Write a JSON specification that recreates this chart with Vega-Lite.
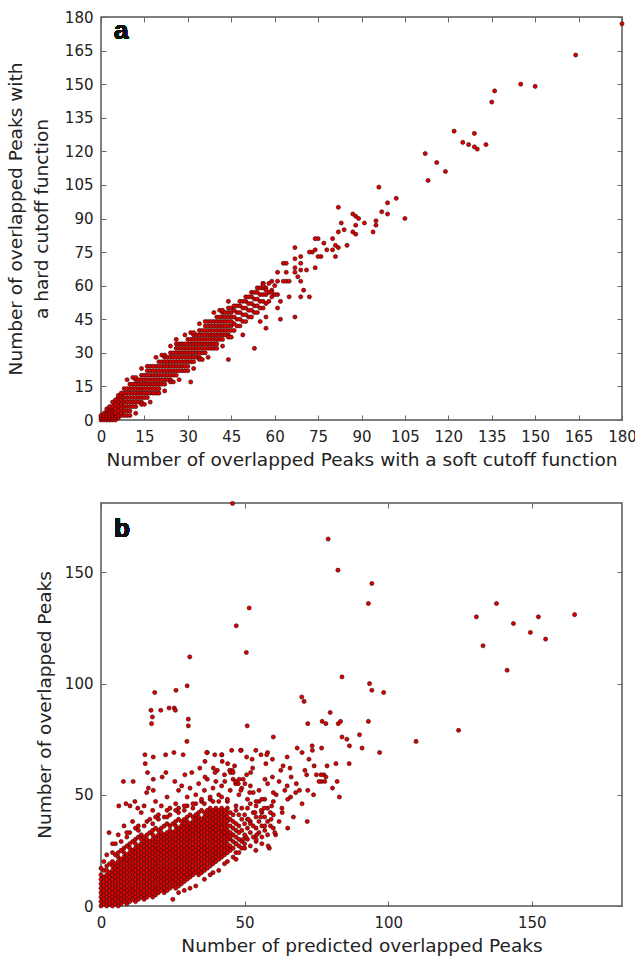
{
"$schema":"https://vega.github.io/schema/vega-lite/v6.json",
"background":"white",
"padding":{"left":5,"top":9,"right":2,"bottom":0},
"bounds":"flush",
"spacing":83,
"config":{
 "view":{"stroke":"#555","strokeWidth":1.5},
 "axis":{"labelFont":"DejaVu Sans","labelFontSize":15,"labelColor":"#222","titleFont":"DejaVu Sans","titleFontSize":18.5,"titleFontWeight":"normal","titleColor":"#222","tickColor":"#666","tickWidth":1,"tickSize":-5,"labelPadding":13,"domain":false,"grid":false,"labelFlush":false,"labelOverlap":false,"titlePadding":6},
 "axisX":{"labelPadding":14},
 "point":{"filled":true,"shape":"circle","size":17,"fill":"#e00000","stroke":"#300000","strokeWidth":0.6,"opacity":1}
},
"datasets":{
"a":[
{"x":0,"y":0},{"x":0,"y":1},{"x":0,"y":2},
{"x":1,"y":0},{"x":1,"y":1},{"x":1,"y":2},{"x":1,"y":3},
{"x":2,"y":0},{"x":2,"y":1},{"x":2,"y":2},{"x":2,"y":3},{"x":2,"y":4},{"x":2,"y":5},
{"x":3,"y":0},{"x":3,"y":1},{"x":3,"y":2},{"x":3,"y":3},{"x":3,"y":4},{"x":3,"y":5},{"x":3,"y":6},
{"x":4,"y":0},{"x":4,"y":1},{"x":4,"y":2},{"x":4,"y":3},{"x":4,"y":4},{"x":4,"y":5},{"x":4,"y":6},{"x":4,"y":8},
{"x":5,"y":0},{"x":5,"y":1},{"x":5,"y":2},{"x":5,"y":3},{"x":5,"y":5},{"x":5,"y":7},{"x":5,"y":9},
{"x":6,"y":1},{"x":6,"y":2},{"x":6,"y":4},{"x":6,"y":6},{"x":6,"y":8},{"x":6,"y":10},{"x":6,"y":11},
{"x":7,"y":2},{"x":7,"y":3},{"x":7,"y":5},{"x":7,"y":7},{"x":7,"y":9},{"x":7,"y":11},{"x":7,"y":12},
{"x":8,"y":2},{"x":8,"y":4},{"x":8,"y":6},{"x":8,"y":8},{"x":8,"y":10},{"x":8,"y":12},{"x":8,"y":14},
{"x":9,"y":4},{"x":9,"y":6},{"x":9,"y":8},{"x":9,"y":10},{"x":9,"y":12},{"x":9,"y":14},{"x":9,"y":2},{"x":9,"y":18},
{"x":10,"y":4},{"x":10,"y":6},{"x":10,"y":8},{"x":10,"y":10},{"x":10,"y":12},{"x":10,"y":14},{"x":10,"y":16},{"x":10,"y":2},
{"x":11,"y":6},{"x":11,"y":8},{"x":11,"y":10},{"x":11,"y":12},{"x":11,"y":14},{"x":11,"y":16},{"x":11,"y":19},
{"x":12,"y":6},{"x":12,"y":8},{"x":12,"y":10},{"x":12,"y":12},{"x":12,"y":14},{"x":12,"y":16},{"x":12,"y":18},{"x":12,"y":3},{"x":12,"y":19},
{"x":13,"y":8},{"x":13,"y":10},{"x":13,"y":12},{"x":13,"y":14},{"x":13,"y":16},{"x":13,"y":18},
{"x":14,"y":8},{"x":14,"y":10},{"x":14,"y":12},{"x":14,"y":14},{"x":14,"y":16},{"x":14,"y":18},{"x":14,"y":20},{"x":14,"y":7},{"x":14,"y":23},
{"x":15,"y":10},{"x":15,"y":12},{"x":15,"y":14},{"x":15,"y":16},{"x":15,"y":18},{"x":15,"y":20},{"x":15,"y":7},
{"x":16,"y":10},{"x":16,"y":12},{"x":16,"y":14},{"x":16,"y":16},{"x":16,"y":18},{"x":16,"y":20},{"x":16,"y":22},{"x":16,"y":24},
{"x":17,"y":12},{"x":17,"y":14},{"x":17,"y":16},{"x":17,"y":18},{"x":17,"y":20},{"x":17,"y":22},{"x":17,"y":8},{"x":17,"y":24},
{"x":18,"y":12},{"x":18,"y":14},{"x":18,"y":16},{"x":18,"y":18},{"x":18,"y":20},{"x":18,"y":22},{"x":18,"y":24},
{"x":19,"y":14},{"x":19,"y":16},{"x":19,"y":18},{"x":19,"y":20},{"x":19,"y":22},{"x":19,"y":24},{"x":19,"y":12},{"x":19,"y":28},
{"x":20,"y":14},{"x":20,"y":16},{"x":20,"y":18},{"x":20,"y":20},{"x":20,"y":22},{"x":20,"y":24},{"x":20,"y":26},{"x":20,"y":12},
{"x":21,"y":16},{"x":21,"y":18},{"x":21,"y":20},{"x":21,"y":22},{"x":21,"y":24},{"x":21,"y":26},{"x":21,"y":29},
{"x":22,"y":16},{"x":22,"y":18},{"x":22,"y":20},{"x":22,"y":22},{"x":22,"y":24},{"x":22,"y":26},{"x":22,"y":28},{"x":22,"y":13},{"x":22,"y":29},
{"x":23,"y":18},{"x":23,"y":20},{"x":23,"y":22},{"x":23,"y":24},{"x":23,"y":26},{"x":23,"y":28},
{"x":24,"y":18},{"x":24,"y":20},{"x":24,"y":22},{"x":24,"y":24},{"x":24,"y":26},{"x":24,"y":28},{"x":24,"y":30},{"x":24,"y":17},{"x":24,"y":33},
{"x":25,"y":20},{"x":25,"y":22},{"x":25,"y":24},{"x":25,"y":26},{"x":25,"y":28},{"x":25,"y":30},{"x":25,"y":17},
{"x":26,"y":20},{"x":26,"y":22},{"x":26,"y":24},{"x":26,"y":26},{"x":26,"y":28},{"x":26,"y":30},{"x":26,"y":32},{"x":26,"y":34},{"x":26,"y":36},
{"x":27,"y":22},{"x":27,"y":24},{"x":27,"y":26},{"x":27,"y":28},{"x":27,"y":30},{"x":27,"y":32},{"x":27,"y":18},{"x":27,"y":34},
{"x":28,"y":22},{"x":28,"y":24},{"x":28,"y":26},{"x":28,"y":28},{"x":28,"y":30},{"x":28,"y":32},{"x":28,"y":34},
{"x":29,"y":24},{"x":29,"y":26},{"x":29,"y":28},{"x":29,"y":30},{"x":29,"y":32},{"x":29,"y":34},{"x":29,"y":22},{"x":29,"y":38},
{"x":30,"y":24},{"x":30,"y":26},{"x":30,"y":28},{"x":30,"y":30},{"x":30,"y":32},{"x":30,"y":34},{"x":30,"y":36},{"x":30,"y":22},
{"x":31,"y":26},{"x":31,"y":28},{"x":31,"y":30},{"x":31,"y":32},{"x":31,"y":34},{"x":31,"y":36},{"x":31,"y":39},
{"x":32,"y":26},{"x":32,"y":28},{"x":32,"y":30},{"x":32,"y":32},{"x":32,"y":34},{"x":32,"y":36},{"x":32,"y":38},{"x":32,"y":23},{"x":32,"y":39},
{"x":33,"y":28},{"x":33,"y":30},{"x":33,"y":32},{"x":33,"y":34},{"x":33,"y":36},{"x":33,"y":38},
{"x":34,"y":28},{"x":34,"y":30},{"x":34,"y":32},{"x":34,"y":34},{"x":34,"y":36},{"x":34,"y":38},{"x":34,"y":40},{"x":34,"y":27},{"x":34,"y":43},
{"x":35,"y":30},{"x":35,"y":32},{"x":35,"y":34},{"x":35,"y":36},{"x":35,"y":38},{"x":35,"y":40},{"x":35,"y":27},
{"x":36,"y":30},{"x":36,"y":32},{"x":36,"y":34},{"x":36,"y":36},{"x":36,"y":38},{"x":36,"y":40},{"x":36,"y":42},{"x":36,"y":44},
{"x":37,"y":32},{"x":37,"y":34},{"x":37,"y":36},{"x":37,"y":38},{"x":37,"y":40},{"x":37,"y":42},{"x":37,"y":28},{"x":37,"y":44},
{"x":38,"y":32},{"x":38,"y":34},{"x":38,"y":36},{"x":38,"y":38},{"x":38,"y":40},{"x":38,"y":42},{"x":38,"y":44},
{"x":39,"y":34},{"x":39,"y":36},{"x":39,"y":38},{"x":39,"y":40},{"x":39,"y":42},{"x":39,"y":44},{"x":39,"y":32},{"x":39,"y":48},
{"x":40,"y":34},{"x":40,"y":36},{"x":40,"y":38},{"x":40,"y":40},{"x":40,"y":42},{"x":40,"y":44},{"x":40,"y":46},{"x":40,"y":32},
{"x":41,"y":36},{"x":41,"y":38},{"x":41,"y":40},{"x":41,"y":42},{"x":41,"y":44},{"x":41,"y":46},{"x":41,"y":49},
{"x":42,"y":36},{"x":42,"y":38},{"x":42,"y":40},{"x":42,"y":42},{"x":42,"y":44},{"x":42,"y":46},{"x":42,"y":48},{"x":42,"y":33},{"x":42,"y":49},
{"x":43,"y":38},{"x":43,"y":40},{"x":43,"y":42},{"x":43,"y":44},{"x":43,"y":46},{"x":43,"y":48},
{"x":44,"y":38},{"x":44,"y":40},{"x":44,"y":42},{"x":44,"y":44},{"x":44,"y":46},{"x":44,"y":48},{"x":44,"y":50},{"x":44,"y":37},{"x":44,"y":53},
{"x":45,"y":40},{"x":45,"y":42},{"x":45,"y":44},{"x":45,"y":46},{"x":45,"y":48},{"x":45,"y":50},{"x":45,"y":37},
{"x":46,"y":40},{"x":46,"y":43},{"x":46,"y":46},{"x":46,"y":49},{"x":46,"y":51},
{"x":47,"y":42},{"x":47,"y":45},{"x":47,"y":48},{"x":47,"y":51},
{"x":48,"y":42},{"x":48,"y":45},{"x":48,"y":48},{"x":48,"y":51},{"x":48,"y":53},
{"x":49,"y":44},{"x":49,"y":47},{"x":49,"y":50},{"x":49,"y":53},
{"x":50,"y":44},{"x":50,"y":47},{"x":50,"y":50},{"x":50,"y":53},{"x":50,"y":55},
{"x":51,"y":46},{"x":51,"y":49},{"x":51,"y":52},{"x":51,"y":55},
{"x":52,"y":46},{"x":52,"y":49},{"x":52,"y":52},{"x":52,"y":55},{"x":52,"y":57},
{"x":53,"y":48},{"x":53,"y":51},{"x":53,"y":54},{"x":53,"y":57},
{"x":54,"y":48},{"x":54,"y":51},{"x":54,"y":54},{"x":54,"y":57},{"x":54,"y":59},
{"x":55,"y":50},{"x":55,"y":53},{"x":55,"y":56},{"x":55,"y":59},
{"x":56,"y":50},{"x":56,"y":53},{"x":56,"y":56},{"x":56,"y":59},{"x":56,"y":61},
{"x":57,"y":52},{"x":57,"y":56},{"x":57,"y":59},
{"x":58,"y":53},{"x":58,"y":57},{"x":58,"y":61},
{"x":59,"y":55},{"x":59,"y":58},
{"x":60,"y":56},{"x":60,"y":60},
{"x":164,"y":163},{"x":145,"y":150},{"x":150,"y":149},{"x":136,"y":147},{"x":135,"y":142},{"x":122,"y":129},{"x":129,"y":128},{"x":125,"y":124},{"x":127,"y":123},{"x":129,"y":122},{"x":130,"y":121},{"x":133,"y":123},{"x":112,"y":119},{"x":116,"y":115},{"x":119,"y":111},{"x":113,"y":107},{"x":96,"y":104},{"x":102,"y":99},{"x":99,"y":97},{"x":97,"y":93},{"x":99,"y":92},{"x":105,"y":90},{"x":82,"y":95},{"x":87,"y":92},{"x":88,"y":91},{"x":89,"y":90},{"x":83,"y":88},{"x":88,"y":87},{"x":91,"y":88},{"x":95,"y":89},{"x":95,"y":87},{"x":84,"y":85},{"x":82,"y":84},{"x":87,"y":84},{"x":88,"y":83},{"x":94,"y":84},{"x":75,"y":81},{"x":80,"y":81},{"x":76,"y":73},{"x":77,"y":79},{"x":78,"y":76},{"x":80,"y":76},{"x":81,"y":78},{"x":82,"y":77},{"x":81,"y":73},{"x":85,"y":78},{"x":74,"y":81},{"x":73,"y":75},{"x":74,"y":76},{"x":75,"y":73},{"x":67,"y":77},{"x":72,"y":75},{"x":67,"y":72},{"x":69,"y":73},{"x":69,"y":70},{"x":63,"y":70},{"x":64,"y":70},{"x":67,"y":68},{"x":69,"y":67},{"x":71,"y":67},{"x":74,"y":68},{"x":67,"y":66},{"x":61,"y":66},{"x":64,"y":66},{"x":61,"y":62},{"x":63,"y":62},{"x":64,"y":62},{"x":65,"y":62},{"x":68,"y":64},{"x":69,"y":62},{"x":70,"y":58},{"x":65,"y":55},{"x":69,"y":55},{"x":72,"y":55},{"x":56,"y":61},{"x":56,"y":60},{"x":59,"y":62},{"x":57,"y":58},{"x":59,"y":57},{"x":61,"y":56},{"x":62,"y":53},{"x":61,"y":50},{"x":62,"y":45},{"x":67,"y":46},{"x":57,"y":46},{"x":57,"y":41},{"x":55,"y":44},{"x":53,"y":32},{"x":49,"y":38},{"x":44,"y":27},{"x":31,"y":17},{"x":180,"y":177}
],
"b":[
{"x":0,"y":0},{"x":0,"y":2},{"x":0,"y":4},{"x":0,"y":6},{"x":0,"y":8},{"x":0,"y":10},{"x":0,"y":12},{"x":0,"y":14},{"x":0,"y":17},
{"x":1,"y":1},{"x":1,"y":3},{"x":1,"y":5},{"x":1,"y":7},{"x":1,"y":9},{"x":1,"y":11},{"x":1,"y":13},{"x":1,"y":16},{"x":1,"y":20},
{"x":2,"y":0},{"x":2,"y":2},{"x":2,"y":4},{"x":2,"y":6},{"x":2,"y":8},{"x":2,"y":10},{"x":2,"y":12},{"x":2,"y":14},{"x":2,"y":16},{"x":2,"y":18},{"x":2,"y":23},
{"x":3,"y":1},{"x":3,"y":3},{"x":3,"y":5},{"x":3,"y":7},{"x":3,"y":9},{"x":3,"y":11},{"x":3,"y":13},{"x":3,"y":15},{"x":3,"y":19},
{"x":4,"y":0},{"x":4,"y":2},{"x":4,"y":4},{"x":4,"y":6},{"x":4,"y":8},{"x":4,"y":10},{"x":4,"y":12},{"x":4,"y":14},{"x":4,"y":16},{"x":4,"y":18},{"x":4,"y":20},{"x":4,"y":24},
{"x":5,"y":1},{"x":5,"y":3},{"x":5,"y":5},{"x":5,"y":7},{"x":5,"y":9},{"x":5,"y":11},{"x":5,"y":13},{"x":5,"y":15},{"x":5,"y":17},{"x":5,"y":19},{"x":5,"y":23},{"x":5,"y":28},
{"x":6,"y":0},{"x":6,"y":2},{"x":6,"y":4},{"x":6,"y":6},{"x":6,"y":8},{"x":6,"y":10},{"x":6,"y":12},{"x":6,"y":14},{"x":6,"y":16},{"x":6,"y":18},{"x":6,"y":20},{"x":6,"y":22},{"x":6,"y":24},
{"x":7,"y":1},{"x":7,"y":3},{"x":7,"y":5},{"x":7,"y":7},{"x":7,"y":9},{"x":7,"y":11},{"x":7,"y":13},{"x":7,"y":15},{"x":7,"y":17},{"x":7,"y":19},{"x":7,"y":21},{"x":7,"y":25},{"x":7,"y":29},
{"x":8,"y":2},{"x":8,"y":4},{"x":8,"y":6},{"x":8,"y":8},{"x":8,"y":10},{"x":8,"y":12},{"x":8,"y":14},{"x":8,"y":16},{"x":8,"y":18},{"x":8,"y":20},{"x":8,"y":22},{"x":8,"y":24},{"x":8,"y":26},
{"x":9,"y":1},{"x":9,"y":3},{"x":9,"y":5},{"x":9,"y":7},{"x":9,"y":9},{"x":9,"y":11},{"x":9,"y":13},{"x":9,"y":15},{"x":9,"y":17},{"x":9,"y":19},{"x":9,"y":21},{"x":9,"y":23},{"x":9,"y":27},{"x":9,"y":31},
{"x":10,"y":2},{"x":10,"y":4},{"x":10,"y":6},{"x":10,"y":8},{"x":10,"y":10},{"x":10,"y":12},{"x":10,"y":14},{"x":10,"y":16},{"x":10,"y":18},{"x":10,"y":20},{"x":10,"y":22},{"x":10,"y":24},{"x":10,"y":26},{"x":10,"y":28},{"x":10,"y":33},
{"x":11,"y":3},{"x":11,"y":5},{"x":11,"y":7},{"x":11,"y":9},{"x":11,"y":11},{"x":11,"y":13},{"x":11,"y":15},{"x":11,"y":17},{"x":11,"y":19},{"x":11,"y":21},{"x":11,"y":23},{"x":11,"y":25},{"x":11,"y":29},
{"x":12,"y":2},{"x":12,"y":4},{"x":12,"y":6},{"x":12,"y":8},{"x":12,"y":10},{"x":12,"y":12},{"x":12,"y":14},{"x":12,"y":16},{"x":12,"y":18},{"x":12,"y":20},{"x":12,"y":22},{"x":12,"y":24},{"x":12,"y":26},{"x":12,"y":28},{"x":12,"y":30},{"x":12,"y":35},
{"x":13,"y":3},{"x":13,"y":5},{"x":13,"y":7},{"x":13,"y":9},{"x":13,"y":11},{"x":13,"y":13},{"x":13,"y":15},{"x":13,"y":17},{"x":13,"y":19},{"x":13,"y":21},{"x":13,"y":23},{"x":13,"y":25},{"x":13,"y":27},{"x":13,"y":31},{"x":13,"y":34},
{"x":14,"y":4},{"x":14,"y":6},{"x":14,"y":8},{"x":14,"y":10},{"x":14,"y":12},{"x":14,"y":14},{"x":14,"y":16},{"x":14,"y":18},{"x":14,"y":20},{"x":14,"y":22},{"x":14,"y":24},{"x":14,"y":26},{"x":14,"y":28},{"x":14,"y":30},{"x":14,"y":32},
{"x":15,"y":3},{"x":15,"y":5},{"x":15,"y":7},{"x":15,"y":9},{"x":15,"y":11},{"x":15,"y":13},{"x":15,"y":15},{"x":15,"y":17},{"x":15,"y":19},{"x":15,"y":21},{"x":15,"y":23},{"x":15,"y":25},{"x":15,"y":27},{"x":15,"y":29},{"x":15,"y":31},{"x":15,"y":36},
{"x":16,"y":4},{"x":16,"y":6},{"x":16,"y":8},{"x":16,"y":10},{"x":16,"y":12},{"x":16,"y":14},{"x":16,"y":16},{"x":16,"y":18},{"x":16,"y":20},{"x":16,"y":22},{"x":16,"y":24},{"x":16,"y":26},{"x":16,"y":28},{"x":16,"y":30},{"x":16,"y":32},{"x":16,"y":38},
{"x":17,"y":5},{"x":17,"y":7},{"x":17,"y":9},{"x":17,"y":11},{"x":17,"y":13},{"x":17,"y":15},{"x":17,"y":17},{"x":17,"y":19},{"x":17,"y":21},{"x":17,"y":23},{"x":17,"y":25},{"x":17,"y":27},{"x":17,"y":29},{"x":17,"y":33},
{"x":18,"y":4},{"x":18,"y":6},{"x":18,"y":8},{"x":18,"y":10},{"x":18,"y":12},{"x":18,"y":14},{"x":18,"y":16},{"x":18,"y":18},{"x":18,"y":20},{"x":18,"y":22},{"x":18,"y":24},{"x":18,"y":26},{"x":18,"y":28},{"x":18,"y":30},{"x":18,"y":32},{"x":18,"y":34},{"x":18,"y":37},
{"x":19,"y":5},{"x":19,"y":7},{"x":19,"y":9},{"x":19,"y":11},{"x":19,"y":13},{"x":19,"y":15},{"x":19,"y":17},{"x":19,"y":19},{"x":19,"y":21},{"x":19,"y":23},{"x":19,"y":25},{"x":19,"y":27},{"x":19,"y":29},{"x":19,"y":31},{"x":19,"y":35},{"x":19,"y":40},
{"x":20,"y":6},{"x":20,"y":8},{"x":20,"y":10},{"x":20,"y":12},{"x":20,"y":14},{"x":20,"y":16},{"x":20,"y":18},{"x":20,"y":20},{"x":20,"y":22},{"x":20,"y":24},{"x":20,"y":26},{"x":20,"y":28},{"x":20,"y":30},{"x":20,"y":32},{"x":20,"y":34},{"x":20,"y":39},
{"x":21,"y":7},{"x":21,"y":9},{"x":21,"y":11},{"x":21,"y":13},{"x":21,"y":15},{"x":21,"y":17},{"x":21,"y":19},{"x":21,"y":21},{"x":21,"y":23},{"x":21,"y":25},{"x":21,"y":27},{"x":21,"y":29},{"x":21,"y":31},{"x":21,"y":33},{"x":21,"y":35},
{"x":22,"y":6},{"x":22,"y":8},{"x":22,"y":10},{"x":22,"y":12},{"x":22,"y":14},{"x":22,"y":16},{"x":22,"y":18},{"x":22,"y":20},{"x":22,"y":22},{"x":22,"y":24},{"x":22,"y":26},{"x":22,"y":28},{"x":22,"y":30},{"x":22,"y":32},{"x":22,"y":36},{"x":22,"y":40},
{"x":23,"y":7},{"x":23,"y":9},{"x":23,"y":11},{"x":23,"y":13},{"x":23,"y":15},{"x":23,"y":17},{"x":23,"y":19},{"x":23,"y":21},{"x":23,"y":23},{"x":23,"y":25},{"x":23,"y":27},{"x":23,"y":29},{"x":23,"y":31},{"x":23,"y":33},{"x":23,"y":37},{"x":23,"y":43},
{"x":24,"y":8},{"x":24,"y":10},{"x":24,"y":12},{"x":24,"y":14},{"x":24,"y":16},{"x":24,"y":18},{"x":24,"y":20},{"x":24,"y":22},{"x":24,"y":24},{"x":24,"y":26},{"x":24,"y":28},{"x":24,"y":30},{"x":24,"y":32},{"x":24,"y":34},{"x":24,"y":36},{"x":24,"y":41},
{"x":25,"y":9},{"x":25,"y":11},{"x":25,"y":13},{"x":25,"y":15},{"x":25,"y":17},{"x":25,"y":19},{"x":25,"y":21},{"x":25,"y":23},{"x":25,"y":25},{"x":25,"y":27},{"x":25,"y":29},{"x":25,"y":31},{"x":25,"y":33},{"x":25,"y":37},
{"x":26,"y":8},{"x":26,"y":10},{"x":26,"y":12},{"x":26,"y":14},{"x":26,"y":16},{"x":26,"y":18},{"x":26,"y":20},{"x":26,"y":22},{"x":26,"y":24},{"x":26,"y":26},{"x":26,"y":28},{"x":26,"y":30},{"x":26,"y":32},{"x":26,"y":34},{"x":26,"y":36},{"x":26,"y":38},{"x":26,"y":43},
{"x":27,"y":9},{"x":27,"y":11},{"x":27,"y":13},{"x":27,"y":15},{"x":27,"y":17},{"x":27,"y":19},{"x":27,"y":21},{"x":27,"y":23},{"x":27,"y":25},{"x":27,"y":27},{"x":27,"y":29},{"x":27,"y":31},{"x":27,"y":33},{"x":27,"y":35},{"x":27,"y":39},{"x":27,"y":44},
{"x":28,"y":10},{"x":28,"y":12},{"x":28,"y":14},{"x":28,"y":16},{"x":28,"y":18},{"x":28,"y":20},{"x":28,"y":22},{"x":28,"y":24},{"x":28,"y":26},{"x":28,"y":28},{"x":28,"y":30},{"x":28,"y":32},{"x":28,"y":34},{"x":28,"y":36},{"x":28,"y":38},
{"x":29,"y":11},{"x":29,"y":13},{"x":29,"y":15},{"x":29,"y":17},{"x":29,"y":19},{"x":29,"y":21},{"x":29,"y":23},{"x":29,"y":25},{"x":29,"y":27},{"x":29,"y":29},{"x":29,"y":31},{"x":29,"y":33},{"x":29,"y":35},{"x":29,"y":37},{"x":29,"y":39},{"x":29,"y":43},
{"x":30,"y":12},{"x":30,"y":14},{"x":30,"y":16},{"x":30,"y":18},{"x":30,"y":20},{"x":30,"y":22},{"x":30,"y":24},{"x":30,"y":26},{"x":30,"y":28},{"x":30,"y":30},{"x":30,"y":32},{"x":30,"y":34},{"x":30,"y":36},{"x":30,"y":38},{"x":30,"y":40},{"x":30,"y":45},
{"x":31,"y":13},{"x":31,"y":15},{"x":31,"y":17},{"x":31,"y":19},{"x":31,"y":21},{"x":31,"y":23},{"x":31,"y":25},{"x":31,"y":27},{"x":31,"y":29},{"x":31,"y":31},{"x":31,"y":33},{"x":31,"y":35},{"x":31,"y":37},{"x":31,"y":41},
{"x":32,"y":14},{"x":32,"y":16},{"x":32,"y":18},{"x":32,"y":20},{"x":32,"y":22},{"x":32,"y":24},{"x":32,"y":26},{"x":32,"y":28},{"x":32,"y":30},{"x":32,"y":32},{"x":32,"y":34},{"x":32,"y":36},{"x":32,"y":38},{"x":32,"y":40},{"x":32,"y":44},
{"x":33,"y":15},{"x":33,"y":17},{"x":33,"y":19},{"x":33,"y":21},{"x":33,"y":23},{"x":33,"y":25},{"x":33,"y":27},{"x":33,"y":29},{"x":33,"y":31},{"x":33,"y":33},{"x":33,"y":35},{"x":33,"y":37},{"x":33,"y":39},{"x":33,"y":41},{"x":33,"y":46},
{"x":34,"y":14},{"x":34,"y":16},{"x":34,"y":18},{"x":34,"y":20},{"x":34,"y":22},{"x":34,"y":24},{"x":34,"y":26},{"x":34,"y":28},{"x":34,"y":30},{"x":34,"y":32},{"x":34,"y":34},{"x":34,"y":36},{"x":34,"y":38},{"x":34,"y":40},{"x":34,"y":42},
{"x":35,"y":15},{"x":35,"y":17},{"x":35,"y":19},{"x":35,"y":21},{"x":35,"y":23},{"x":35,"y":25},{"x":35,"y":27},{"x":35,"y":29},{"x":35,"y":31},{"x":35,"y":33},{"x":35,"y":35},{"x":35,"y":37},{"x":35,"y":39},{"x":35,"y":43},{"x":35,"y":47},
{"x":36,"y":16},{"x":36,"y":18},{"x":36,"y":20},{"x":36,"y":22},{"x":36,"y":24},{"x":36,"y":26},{"x":36,"y":28},{"x":36,"y":30},{"x":36,"y":32},{"x":36,"y":34},{"x":36,"y":36},{"x":36,"y":38},{"x":36,"y":40},{"x":36,"y":42},{"x":36,"y":46},
{"x":37,"y":17},{"x":37,"y":19},{"x":37,"y":21},{"x":37,"y":23},{"x":37,"y":25},{"x":37,"y":27},{"x":37,"y":29},{"x":37,"y":31},{"x":37,"y":33},{"x":37,"y":35},{"x":37,"y":37},{"x":37,"y":39},{"x":37,"y":41},{"x":37,"y":43},
{"x":38,"y":18},{"x":38,"y":20},{"x":38,"y":22},{"x":38,"y":24},{"x":38,"y":26},{"x":38,"y":28},{"x":38,"y":30},{"x":38,"y":32},{"x":38,"y":34},{"x":38,"y":36},{"x":38,"y":38},{"x":38,"y":40},{"x":38,"y":42},{"x":38,"y":44},{"x":38,"y":48},
{"x":39,"y":19},{"x":39,"y":21},{"x":39,"y":23},{"x":39,"y":25},{"x":39,"y":27},{"x":39,"y":29},{"x":39,"y":31},{"x":39,"y":33},{"x":39,"y":35},{"x":39,"y":37},{"x":39,"y":39},{"x":39,"y":41},{"x":39,"y":43},{"x":39,"y":47},
{"x":40,"y":20},{"x":40,"y":22},{"x":40,"y":24},{"x":40,"y":26},{"x":40,"y":28},{"x":40,"y":30},{"x":40,"y":32},{"x":40,"y":34},{"x":40,"y":36},{"x":40,"y":38},{"x":40,"y":40},{"x":40,"y":42},{"x":40,"y":44},
{"x":41,"y":21},{"x":41,"y":23},{"x":41,"y":25},{"x":41,"y":27},{"x":41,"y":29},{"x":41,"y":31},{"x":41,"y":33},{"x":41,"y":35},{"x":41,"y":37},{"x":41,"y":39},{"x":41,"y":41},{"x":41,"y":43},{"x":41,"y":47},
{"x":42,"y":22},{"x":42,"y":24},{"x":42,"y":26},{"x":42,"y":28},{"x":42,"y":30},{"x":42,"y":32},{"x":42,"y":34},{"x":42,"y":36},{"x":42,"y":38},{"x":42,"y":40},{"x":42,"y":42},{"x":42,"y":44},{"x":42,"y":49},
{"x":43,"y":23},{"x":43,"y":25},{"x":43,"y":27},{"x":43,"y":29},{"x":43,"y":31},{"x":43,"y":33},{"x":43,"y":35},{"x":43,"y":37},{"x":43,"y":39},{"x":43,"y":41},{"x":43,"y":43},
{"x":44,"y":24},{"x":44,"y":26},{"x":44,"y":28},{"x":44,"y":30},{"x":44,"y":32},{"x":44,"y":34},{"x":44,"y":36},{"x":44,"y":38},{"x":44,"y":40},{"x":44,"y":42},{"x":44,"y":44},{"x":44,"y":47},
{"x":45,"y":25},{"x":45,"y":27},{"x":45,"y":30},{"x":45,"y":33},{"x":45,"y":36},{"x":45,"y":39},{"x":45,"y":42},
{"x":46,"y":26},{"x":46,"y":29},{"x":46,"y":32},{"x":46,"y":35},{"x":46,"y":38},{"x":46,"y":41},
{"x":47,"y":24},{"x":47,"y":28},{"x":47,"y":31},{"x":47,"y":34},{"x":47,"y":37},{"x":47,"y":43},
{"x":48,"y":27},{"x":48,"y":30},{"x":48,"y":33},{"x":48,"y":36},{"x":48,"y":41},
{"x":49,"y":26},{"x":49,"y":29},{"x":49,"y":34},{"x":49,"y":39},{"x":49,"y":44},
{"x":50,"y":28},{"x":50,"y":32},{"x":50,"y":37},{"x":50,"y":41},
{"x":51,"y":30},{"x":51,"y":35},{"x":51,"y":39},{"x":51,"y":44},
{"x":52,"y":27},{"x":52,"y":33},{"x":52,"y":38},{"x":52,"y":46},
{"x":53,"y":31},{"x":53,"y":36},{"x":53,"y":42},
{"x":54,"y":29},{"x":54,"y":35},{"x":54,"y":40},{"x":54,"y":45},
{"x":55,"y":33},{"x":55,"y":38},{"x":55,"y":47},
{"x":56,"y":31},{"x":56,"y":36},{"x":56,"y":42},
{"x":57,"y":34},{"x":57,"y":40},{"x":57,"y":48},
{"x":58,"y":32},{"x":58,"y":38},{"x":58,"y":44},
{"x":59,"y":36},{"x":59,"y":42},
{"x":60,"y":35},{"x":60,"y":41},{"x":60,"y":47},
{"x":25,"y":3},{"x":31,"y":8},{"x":36,"y":12},{"x":41,"y":16},{"x":44,"y":20},{"x":46,"y":22},{"x":48,"y":24},{"x":50,"y":26},{"x":27,"y":6},{"x":33,"y":9},{"x":39,"y":15},{"x":43,"y":19},{"x":47,"y":21},{"x":29,"y":7},{"x":38,"y":14},
{"x":4,"y":28},{"x":6,"y":32},{"x":8,"y":36},{"x":9,"y":33},{"x":11,"y":38},{"x":13,"y":36},{"x":14,"y":42},{"x":15,"y":45},{"x":17,"y":39},{"x":18,"y":43},{"x":19,"y":47},{"x":20,"y":41},{"x":21,"y":45},{"x":23,"y":40},{"x":23,"y":49},{"x":24,"y":44},{"x":26,"y":46},{"x":27,"y":42},{"x":27,"y":52},{"x":29,"y":45},{"x":30,"y":49},{"x":31,"y":53},{"x":32,"y":46},{"x":33,"y":50},{"x":34,"y":55},{"x":35,"y":48},{"x":36,"y":52},{"x":37,"y":57},{"x":38,"y":49},{"x":39,"y":53},{"x":40,"y":56},{"x":41,"y":50},{"x":42,"y":54},{"x":43,"y":59},{"x":44,"y":48},{"x":45,"y":52},{"x":46,"y":57},{"x":47,"y":45},{"x":48,"y":50},{"x":49,"y":53},{"x":51,"y":48},{"x":52,"y":54},{"x":54,"y":47},{"x":55,"y":52},{"x":56,"y":48},{"x":58,"y":55},{"x":61,"y":50},{"x":62,"y":56},{"x":64,"y":52},{"x":66,"y":49},{"x":68,"y":55},{"x":70,"y":46},{"x":72,"y":52},{"x":74,"y":50},{"x":63,"y":44},{"x":67,"y":40},{"x":57,"y":36},{"x":52,"y":37},{"x":62,"y":38},{"x":65,"y":35},{"x":54,"y":30},{"x":56,"y":28},{"x":47,"y":28},{"x":45,"y":31},{"x":43,"y":33},{"x":42,"y":35},
{"x":45.8,"y":181},{"x":79.1,"y":165},{"x":82.5,"y":151},{"x":51.6,"y":134},{"x":47.1,"y":126},{"x":50.6,"y":114},{"x":30.9,"y":112},{"x":83.9,"y":103},{"x":30,"y":99},{"x":18.7,"y":96},{"x":26.1,"y":97},{"x":17.4,"y":88},{"x":20.8,"y":88},{"x":23.7,"y":89},{"x":25.5,"y":89},{"x":25.9,"y":88},{"x":17.9,"y":85},{"x":17.6,"y":82},{"x":30.4,"y":84},{"x":30.4,"y":81},{"x":50.9,"y":81},{"x":69.9,"y":94},{"x":70.7,"y":92},{"x":79.8,"y":87},{"x":72,"y":82},{"x":77,"y":83},{"x":78.3,"y":82},{"x":82.6,"y":82},{"x":83.4,"y":83},{"x":60,"y":76},{"x":83.9,"y":76},{"x":94.3,"y":145},{"x":93.1,"y":136},{"x":137.7,"y":136},{"x":130.7,"y":130},{"x":143.6,"y":127},{"x":152.3,"y":130},{"x":164.9,"y":131},{"x":149.5,"y":123},{"x":133,"y":117},{"x":154.8,"y":120},{"x":141.4,"y":106},{"x":93.5,"y":100},{"x":94.3,"y":97},{"x":98.4,"y":96},{"x":93.1,"y":83},{"x":85.6,"y":75},{"x":86.5,"y":72},{"x":90,"y":77},{"x":90.9,"y":71},{"x":97,"y":69},{"x":76.8,"y":71},{"x":81.8,"y":64},{"x":78.7,"y":63},{"x":86.4,"y":64},{"x":76.6,"y":59},{"x":77.6,"y":59},{"x":78.3,"y":58},{"x":76.8,"y":56},{"x":77.9,"y":56},{"x":82.2,"y":56},{"x":80.6,"y":53},{"x":83,"y":49},{"x":109.7,"y":74},{"x":124.5,"y":79},{"x":68.3,"y":71},{"x":70,"y":69},{"x":73.5,"y":72},{"x":73.6,"y":70},{"x":64.8,"y":67},{"x":58,"y":69},{"x":55.7,"y":68},{"x":48.8,"y":70},{"x":50.7,"y":67},{"x":57.4,"y":64},{"x":62.6,"y":61},{"x":63.4,"y":63},{"x":65.8,"y":62},{"x":66.2,"y":58},{"x":64.8,"y":54},{"x":71,"y":61},{"x":71.6,"y":59},{"x":72.4,"y":66},{"x":74.2,"y":63},{"x":75,"y":59},{"x":75.9,"y":56},{"x":69.1,"y":52},{"x":67.8,"y":51},{"x":65,"y":48},{"x":63.1,"y":42},{"x":71.8,"y":38},{"x":60.8,"y":32},{"x":58.6,"y":26},{"x":53.9,"y":25},{"x":59.2,"y":39},{"x":55.8,"y":43},{"x":55.6,"y":40},{"x":50.5,"y":31},{"x":60,"y":51},{"x":57.1,"y":57},{"x":59.7,"y":58},{"x":53,"y":51},{"x":51.8,"y":51},{"x":49.5,"y":57},{"x":50.1,"y":55},{"x":50.7,"y":59},{"x":46.5,"y":63},{"x":45.7,"y":61},{"x":42.1,"y":68},{"x":39.6,"y":68},{"x":37,"y":69},{"x":36.2,"y":65},{"x":40.5,"y":61},{"x":39.7,"y":60},{"x":44.8,"y":61},{"x":45.1,"y":60},{"x":43.1,"y":56},{"x":46.9,"y":55},{"x":47.8,"y":55},{"x":29.9,"y":74},{"x":15.3,"y":68},{"x":18.2,"y":67},{"x":15.4,"y":64},{"x":16.2,"y":60},{"x":22.5,"y":68},{"x":28.6,"y":68},{"x":25.4,"y":69},{"x":36.8,"y":69},{"x":42,"y":68},{"x":45.5,"y":70},{"x":48.6,"y":70},{"x":52.6,"y":66},{"x":52.8,"y":62},{"x":52.1,"y":60},{"x":53.9,"y":70},{"x":57.7,"y":68},{"x":59.7,"y":66},{"x":7.8,"y":56},{"x":11.2,"y":56},{"x":6.2,"y":45},{"x":8.7,"y":46},{"x":10.1,"y":45},{"x":11.8,"y":47},{"x":12.8,"y":44},{"x":2.8,"y":33},{"x":15.9,"y":51},{"x":16.5,"y":53},{"x":18.2,"y":52},{"x":18.2,"y":57},{"x":21.3,"y":58},{"x":22.6,"y":60},{"x":25.7,"y":56},{"x":28.1,"y":54},{"x":29.2,"y":59},{"x":31.6,"y":60},{"x":34.4,"y":62},{"x":36.2,"y":58},{"x":39.1,"y":62},{"x":42.2,"y":65},{"x":44.1,"y":64},{"x":46,"y":60},{"x":48.1,"y":57},{"x":48.7,"y":52},{"x":46.9,"y":56},{"x":53.6,"y":42},{"x":51.3,"y":39},{"x":54.2,"y":32},{"x":58.2,"y":27},{"x":60.5,"y":33},{"x":59.4,"y":45},{"x":56.8,"y":44},{"x":49.5,"y":30}
]
},
"vconcat":[
{
 "width":521,"height":403,
 "data":{"name":"a"},
 "layer":[
  {"mark":{"type":"point"},
   "encoding":{
    "x":{"field":"x","type":"quantitative","scale":{"domain":[0,180],"nice":false,"zero":false},"axis":{"values":[0,15,30,45,60,75,90,105,120,135,150,165,180],"title":"Number of overlapped Peaks with a soft cutoff function"}},
    "y":{"field":"y","type":"quantitative","scale":{"domain":[0,180],"nice":false,"zero":false},"axis":{"values":[0,15,30,45,60,75,90,105,120,135,150,165,180],"title":["Number of overlapped Peaks with","a hard cutoff function"],"titleLineHeight":26,"titlePadding":13}}
   }},
  {"mark":{"type":"point","opacity":0},
   "encoding":{
    "x":{"field":"x","type":"quantitative","axis":{"orient":"top","values":[0,15,30,45,60,75,90,105,120,135,150,165,180],"labels":false,"title":null}},
    "y":{"field":"y","type":"quantitative","axis":{"orient":"right","values":[0,15,30,45,60,75,90,105,120,135,150,165,180],"labels":false,"title":null}}
   }},
  {"mark":{"type":"text","text":"a","font":"Liberation Sans","fontSize":26,"fontWeight":"bold","align":"left","baseline":"alphabetic","fill":"#111","stroke":null},
   "encoding":{"x":{"datum":4.5,"type":"quantitative","axis":null},"y":{"datum":170,"type":"quantitative","axis":null}}}
 ],
 "resolve":{"axis":{"x":"independent","y":"independent"}}
},
{
 "width":521,"height":403,
 "data":{"name":"b"},
 "layer":[
  {"mark":{"type":"point"},
   "encoding":{
    "x":{"field":"x","type":"quantitative","scale":{"domain":[0,181.4],"nice":false,"zero":false},"axis":{"values":[0,50,100,150],"title":"Number of predicted overlapped Peaks"}},
    "y":{"field":"y","type":"quantitative","scale":{"domain":[0,181.2],"nice":false,"zero":false},"axis":{"values":[0,50,100,150],"title":"Number of overlapped Peaks","titlePadding":9.5}}
   }},
  {"mark":{"type":"point","opacity":0},
   "encoding":{
    "x":{"field":"x","type":"quantitative","axis":{"orient":"top","values":[0,50,100,150],"labels":false,"title":null}},
    "y":{"field":"y","type":"quantitative","axis":{"orient":"right","values":[0,50,100,150],"labels":false,"title":null}}
   }},
  {"mark":{"type":"text","text":"b","font":"Liberation Sans","fontSize":26,"fontWeight":"bold","align":"left","baseline":"alphabetic","fill":"#111","stroke":null},
   "encoding":{"x":{"datum":4.5,"type":"quantitative","axis":null},"y":{"datum":166,"type":"quantitative","axis":null}}}
 ],
 "resolve":{"axis":{"x":"independent","y":"independent"}}
}
]
}
